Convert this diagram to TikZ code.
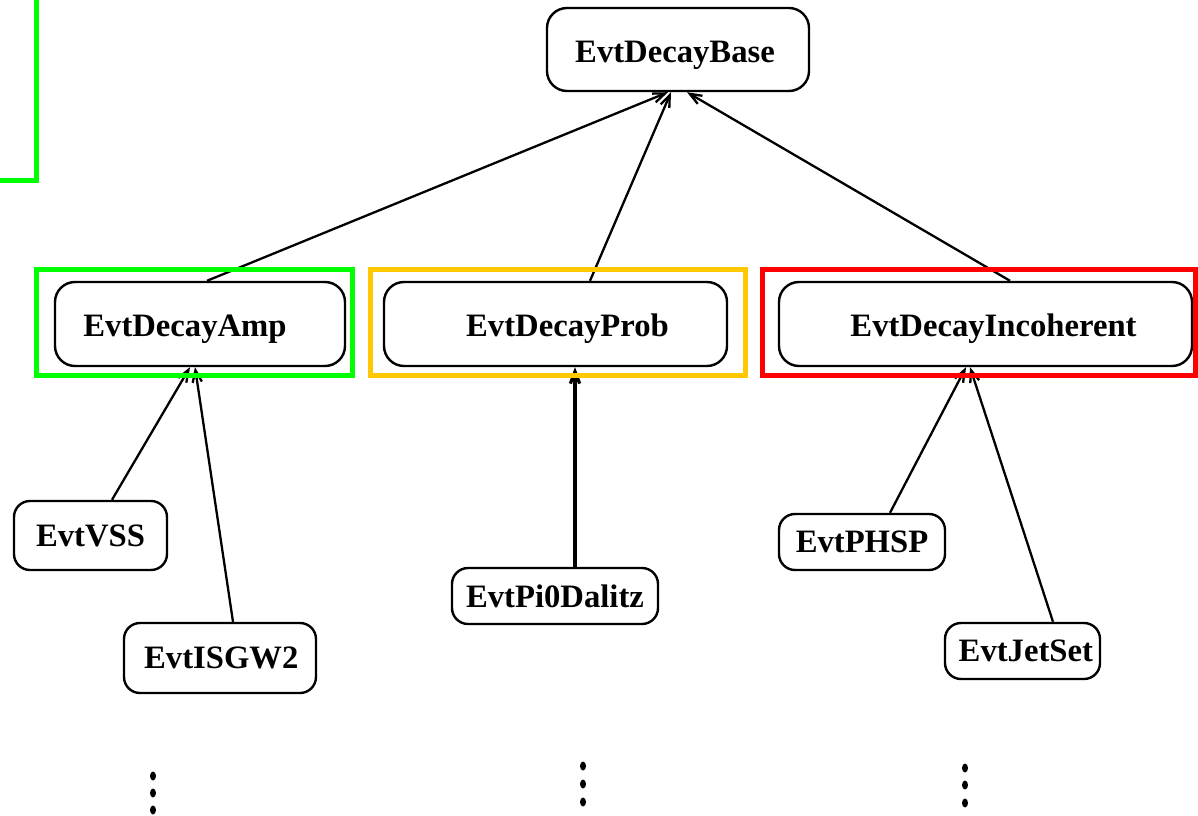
\documentclass[tikz,border=0pt]{standalone}
\usepackage{fontspec}
\setmainfont{Liberation Serif}
\usetikzlibrary{arrows.meta}
\definecolor{frgreen}{RGB}{0,255,0}
\definecolor{frorange}{RGB}{255,200,0}
\definecolor{frred}{RGB}{255,0,0}
\begin{document}
\begin{tikzpicture}[x=0.75pt,y=-0.75pt,
  cls/.style={draw, line width=2.4*0.75pt, rounded corners=16*0.75pt, inner sep=0pt,
    font=\fontsize{24.5}{28}\selectfont\bfseries},
  bigcls/.style={cls, minimum height=84*0.75pt, rounded corners=20*0.75pt,
    text height=20pt, text depth=1pt},
  edge/.style={line width=2.3*0.75pt, -{Straight Barb[length=9pt,width=7pt]}},
  frame/.style={line width=5*0.75pt}]
\useasboundingbox (0,0) rectangle (1198,816);
% class boxes
\node[bigcls, minimum width=262*0.75pt, minimum height=83*0.75pt, text height=21pt] (base) at (678,49.5) {\hspace*{-4.5pt}EvtDecayBase};
\node[bigcls, minimum width=290*0.75pt] (amp) at (200,324) {\hspace*{-22.5pt}EvtDecayAmp};
\node[bigcls, minimum width=343*0.75pt] (prob) at (555.5,324) {\hspace*{18pt}EvtDecayProb};
\node[bigcls, minimum width=413*0.75pt] (inc) at (985.5,324) {\hspace*{12pt}EvtDecayIncoherent};
\node[cls, minimum width=153*0.75pt, minimum height=69*0.75pt] (vss) at (90.5,535.5) {EvtVSS};
\node[cls, minimum width=192*0.75pt, minimum height=70*0.75pt] (isgw) at (220,658) {\hspace*{2pt}EvtISGW2};
\node[cls, minimum width=206*0.75pt, minimum height=56*0.75pt] (pi0) at (555,596) {EvtPi0Dalitz};
\node[cls, minimum width=166*0.75pt, minimum height=56*0.75pt] (phsp) at (862,542) {EvtPHSP};
\node[cls, minimum width=155*0.75pt, minimum height=56*0.75pt] (jet) at (1022.5,651) {\hspace*{5pt}EvtJetSet};
% inheritance edges
\draw[edge] ([xshift=7*0.75pt]amp.north) -- ([xshift=-10*0.75pt]base.south);
\draw[edge] ([xshift=34.5*0.75pt]prob.north) -- ([xshift=-7*0.75pt]base.south);
\draw[edge] ([xshift=24.5*0.75pt]inc.north) -- ([xshift=9*0.75pt]base.south);
\draw[edge] ([xshift=21.5*0.75pt]vss.north) -- ([xshift=-10*0.75pt]amp.south);
\draw[edge] ([xshift=13*0.75pt]isgw.north) -- ([xshift=-5*0.75pt]amp.south);
\draw[edge, line width=3.2*0.75pt] ([xshift=20*0.75pt]pi0.north) -- ([xshift=19.5*0.75pt]prob.south);
\draw[edge] ([xshift=28*0.75pt]phsp.north) -- ([xshift=-19.5*0.75pt]inc.south);
\draw[edge] ([xshift=30.5*0.75pt]jet.north) -- ([xshift=-15.5*0.75pt]inc.south);
% coloured frames
\draw[frame, frgreen] (-10,-10) rectangle (36,181);
\draw[frame, frgreen] (36,270) rectangle (352,375);
\draw[frame, frorange] (370.5,269.5) rectangle (745.5,375);
\draw[frame, frred] (762,269.5) rectangle (1195.5,375);
% continuation dots
\foreach \x/\y in {153/776, 153/793, 153/810, 583/766, 583/784, 583/802, 965/768, 965/785, 965/803}
  \fill (\x,\y) ellipse [x radius=3*0.75pt, y radius=4.5*0.75pt];
\end{tikzpicture}
\end{document}
